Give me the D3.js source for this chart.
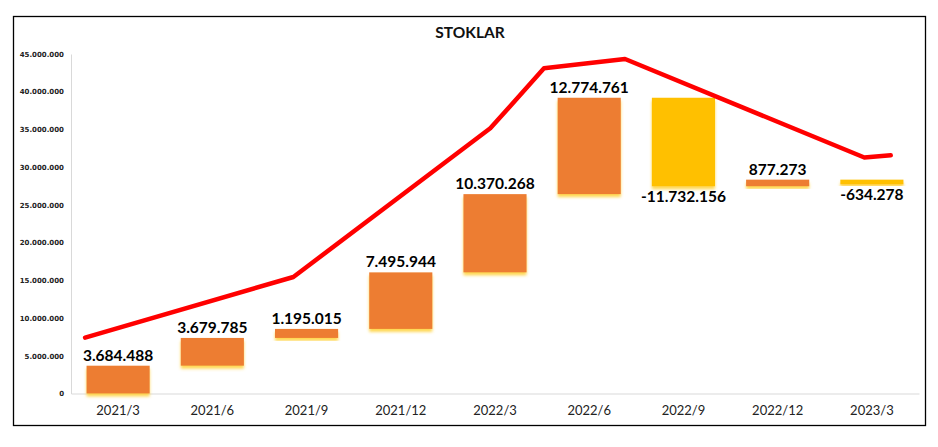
<!DOCTYPE html>
<html><head><meta charset="utf-8">
<script src="https://cdn.jsdelivr.net/npm/d3@7"></script>
<style>
html,body{margin:0;padding:0;background:#fff;}
svg{display:block;}
</style></head>
<body>
<svg id="chart" width="938" height="447"></svg>
<script>
// ---- data ----
const categories = ["2021/3","2021/6","2021/9","2021/12","2022/3","2022/6","2022/9","2022/12","2023/3"];
const changes = [3684488, 3679785, 1195015, 7495944, 10370268, 12774761, -11732156, 877273, -634278];
const yTicks = [0, 5000000, 10000000, 15000000, 20000000, 25000000, 30000000, 35000000, 40000000, 45000000];
// red line: position in category units (0 = first category centre) and value
const lineX = [-0.35, 1.86, 3.95, 4.52, 5.38, 7.92, 8.2];
const lineY = [7410000, 15440000, 35150000, 43100000, 44340000, 31280000, 31570000];
const title = "STOKLAR";

// ---- setup ----
const svg = d3.select("#chart");
const W = 938, H = 447;
const plot = {left: 71, right: 919, top: 54, bottom: 393.5};
const loc = d3.formatLocale({decimal: ",", thousands: ".", grouping: [3], currency: ["", ""], minus: "-"});
const fmt = loc.format(",d");

const x = d3.scaleBand().domain(categories).range([plot.left, plot.right]).paddingInner(0.33).paddingOuter(0.165);
const y = d3.scaleLinear().domain([0, 45000000]).range([plot.bottom, plot.top]);
const xc = d => x(categories[0]) + x.bandwidth() / 2 + d * x.step();

// waterfall
let run = 0;
const bars = changes.map((v, i) => {
  const start = run; run += v;
  return {cat: categories[i], v, lo: Math.min(start, run), hi: Math.max(start, run)};
});

const defs = svg.append("defs");
const f = defs.append("filter").attr("id", "glow").attr("x", "-20%").attr("y", "-20%").attr("width", "140%").attr("height", "150%");
f.append("feDropShadow").attr("dx", 0).attr("dy", 3).attr("stdDeviation", 1.6)
  .attr("flood-color", "#FFD54A").attr("flood-opacity", 0.95);

// border
svg.append("rect").attr("x", 13.5).attr("y", 16.5).attr("width", 912).attr("height", 409)
  .attr("fill", "#fff").attr("stroke", "#000").attr("stroke-width", 1.3);

// title
svg.append("text").attr("x", 470).attr("y", 38).attr("text-anchor", "middle")
  .attr("font-family", "Lato, 'Open Sans', sans-serif").attr("font-weight", 700).attr("font-size", 15.5)
  .attr("fill", "#111").text(title);

// y axis
const yAxis = d3.axisLeft(y).tickValues(yTicks).tickSize(0).tickPadding(7).tickFormat(fmt);
const gy = svg.append("g").attr("transform", `translate(${plot.left},0)`).call(yAxis);
gy.select(".domain").attr("stroke", "#d9d9d9").attr("stroke-width", 1);
gy.selectAll("text").attr("font-family", "'DejaVu Sans', sans-serif").attr("font-weight", 700)
  .attr("font-size", 7).attr("fill", "#222");

// x axis
const xAxis = d3.axisBottom(x).tickSize(0).tickPadding(12);
const gx = svg.append("g").attr("transform", `translate(0,${plot.bottom})`).call(xAxis);
gx.select(".domain").attr("stroke", "#d9d9d9").attr("stroke-width", 1);
gx.selectAll("text").attr("font-family", "Lato, 'Open Sans', sans-serif")
  .attr("font-size", 13).attr("fill", "#222");

// bars
svg.append("g").selectAll("rect").data(bars).join("rect")
  .attr("x", d => x(d.cat)).attr("width", x.bandwidth())
  .attr("y", d => y(d.hi)).attr("height", d => Math.max(1, y(d.lo) - y(d.hi)))
  .attr("fill", d => d.v >= 0 ? "#ED7D31" : "#FFC000")
  .attr("filter", "url(#glow)");

// labels
svg.append("g").selectAll("text").data(bars).join("text")
  .attr("x", d => x(d.cat) + x.bandwidth() / 2)
  .attr("y", d => d.v >= 0 ? y(d.hi) - 5 : y(d.lo) + 16)
  .attr("text-anchor", "middle")
  .attr("font-family", "Lato, 'Open Sans', sans-serif").attr("font-weight", 700).attr("font-size", 15.5)
  .attr("fill", "#000").text(d => fmt(d.v));

// red line
const pts = lineX.map((v, i) => [xc(v), y(lineY[i])]);
svg.append("path").attr("d", d3.line()(pts)).attr("fill", "none")
  .attr("stroke", "#FF0000").attr("stroke-width", 4.5).attr("stroke-linejoin", "round").attr("stroke-linecap", "round");
</script>
</body></html>
